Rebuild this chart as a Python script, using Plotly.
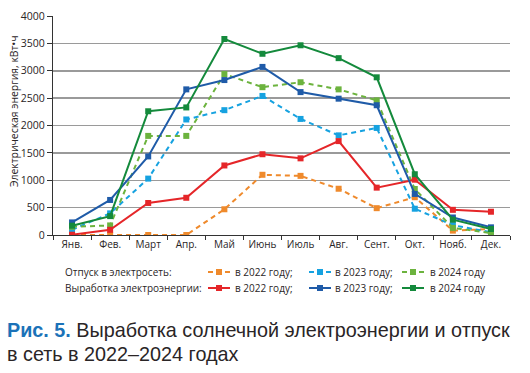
import plotly.graph_objects as go

months = ["Янв.", "Фев.", "Март", "Апр.", "Май", "Июнь", "Июль", "Авг.", "Сент.", "Окт.", "Нояб.", "Дек."]

supply_2022 = [0, 0, 0, 0, 470, 1100, 1080, 845, 490, 690, 80, 110]
supply_2023 = [95, 395, 1030, 2110, 2280, 2540, 2120, 1820, 1955, 480, 180, 50]
supply_2024 = [150, 175, 1810, 1810, 2940, 2700, 2790, 2660, 2460, 840, 130, 35]
gen_2022 = [5, 95, 585, 680, 1270, 1475, 1400, 1715, 865, 1010, 460, 425]
gen_2023 = [230, 640, 1435, 2660, 2830, 3070, 2610, 2490, 2370, 750, 320, 140]
gen_2024 = [170, 345, 2260, 2330, 3580, 3310, 3465, 3230, 2880, 1110, 280, 110]

yticks = [0, 500, 1000, 1500, 2000, 2500, 3000, 3500, 4000]

C_OR = "#ef8a2c"
C_LB = "#16a2e0"
C_LG = "#6cb33e"
C_RD = "#e52629"
C_DB = "#1f5ba8"
C_DG = "#148a3c"
TXT = "#2a2526"

W, H = 530, 373
L, R, T, B = 53, 510, 16, 235

def px(x):
    return (x - L) / (R - L)

def py(y):
    return (B - y) / (B - T)

series = [
    (supply_2022, C_OR, "dash"),
    (supply_2023, C_LB, "dash"),
    (supply_2024, C_LG, "dash"),
    (gen_2022, C_RD, "solid"),
    (gen_2023, C_DB, "solid"),
    (gen_2024, C_DG, "solid"),
]

fig = go.Figure()
for vals, col, dash in series:
    fig.add_trace(go.Scatter(
        x=months, y=vals, mode="lines+markers",
        line=dict(color=col, width=2, dash="5px,4px" if dash == "dash" else "solid"),
        marker=dict(symbol="square", size=6, color=col),
        showlegend=False, hoverinfo="skip",
    ))

shapes = []
annotations = []
FS = 10

# y-axis title
annotations.append(dict(x=px(14), y=py(111), xref="paper", yref="paper",
                        text="Электрическая энергия, кВт•ч", textangle=-90, showarrow=False,
                        xanchor="center", yanchor="middle", font=dict(size=10.4, color=TXT)))

# legend
row_y = [272, 288]
row_labels = ["Отпуск в электросеть:", "Выработка электроэнергии:"]
sym_x = [208, 309, 402]
txt_x = [233, 333, 428]
labels = ["в 2022 году;", "в 2023 году;", "в 2024 году"]
for r in range(2):
    annotations.append(dict(x=px(63), y=py(row_y[r]), xref="paper", yref="paper",
                            text=row_labels[r], showarrow=False, xanchor="left", yanchor="middle",
                            font=dict(size=FS, color=TXT)))
    for k in range(3):
        vals, col, dash = series[r * 3 + k]
        x0, x1 = sym_x[k], sym_x[k] + 22
        yy = py(row_y[r])
        if dash == "dash":
            shapes.append(dict(type="line", xref="paper", yref="paper", x0=px(x0), x1=px(x0 + 5), y0=yy, y1=yy,
                               line=dict(color=col, width=2)))
            shapes.append(dict(type="line", xref="paper", yref="paper", x0=px(x1 - 5), x1=px(x1), y0=yy, y1=yy,
                               line=dict(color=col, width=2)))
        else:
            shapes.append(dict(type="line", xref="paper", yref="paper", x0=px(x0), x1=px(x1), y0=yy, y1=yy,
                               line=dict(color=col, width=2)))
        cx = (x0 + x1) / 2
        shapes.append(dict(type="rect", xref="paper", yref="paper", x0=px(cx - 3), x1=px(cx + 3),
                           y0=py(row_y[r] + 3), y1=py(row_y[r] - 3), fillcolor=col, line=dict(width=0)))
        annotations.append(dict(x=px(txt_x[k]), y=yy, xref="paper", yref="paper",
                                text=labels[k], showarrow=False, xanchor="left", yanchor="middle",
                                font=dict(size=FS, color=TXT)))

# caption (two lines)
CAP_FONT = dict(size=19.8, color=TXT, family="Liberation Sans, Arial, sans-serif")
annotations.append(dict(
    x=px(5), y=py(330), xref="paper", yref="paper", xanchor="left", yanchor="middle", align="left",
    text="<b><span style='color:#1b72b8'>Рис. 5.</span></b> Выработка солнечной электроэнергии и отпуск",
    showarrow=False, font=CAP_FONT,
))
annotations.append(dict(
    x=px(5), y=py(354), xref="paper", yref="paper", xanchor="left", yanchor="middle", align="left",
    text="в сеть в 2022–2024 годах",
    showarrow=False, font=CAP_FONT,
))

fig.update_layout(
    width=W, height=H,
    margin=dict(l=L, r=W - R, t=T, b=H - B, pad=0),
    paper_bgcolor="white", plot_bgcolor="white",
    font=dict(family="Open Sans, Liberation Sans, sans-serif", size=FS, color=TXT),
    shapes=shapes, annotations=annotations,
    xaxis=dict(
        type="category", categoryorder="array", categoryarray=months,
        showline=True, linecolor="#333", linewidth=1.2,
        ticks="outside", ticklen=4, tickcolor="#333", tickson="boundaries",
        showgrid=False, range=[-0.5, 11.5], fixedrange=True, automargin=False,
        tickangle=0, tickfont=dict(size=FS, color=TXT),
    ),
    yaxis=dict(
        range=[0, 4000], tickvals=yticks, ticktext=[str(v) for v in yticks],
        showline=True, linecolor="#333", linewidth=1.2, automargin=False,
        ticks="outside", ticklen=5, tickcolor="#333",
        showgrid=True, gridcolor="#9a9a9a", gridwidth=1.5,
        zeroline=False, tickfont=dict(size=10.5, color=TXT), fixedrange=True,
    ),
)

fig.write_html("out.html", config={"displayModeBar": False, "staticPlot": True},
               post_script="document.body.style.margin='0';document.body.style.overflow='hidden';")
